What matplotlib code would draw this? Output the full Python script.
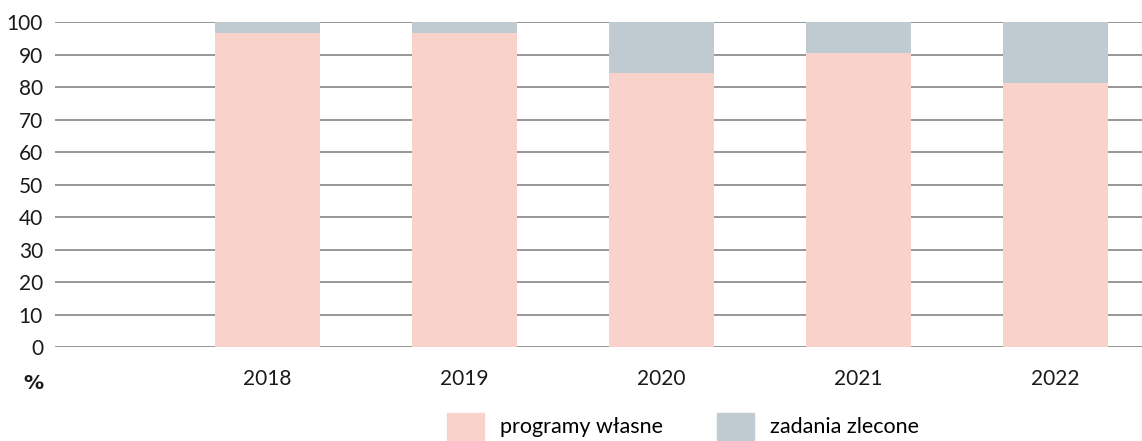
import matplotlib.pyplot as plt
from matplotlib.patches import Patch

plt.rcParams['font.family'] = ['Lato', 'DejaVu Sans']

years = ['2018', '2019', '2020', '2021', '2022']
programy_wlasne = [96.5, 96.5, 84.3, 90.6, 81.2]
zadania_zlecone = [100 - v for v in programy_wlasne]

pink = '#f9d3cb'
grey = '#c0cbd1'

fig = plt.figure(figsize=(11.42, 4.41), dpi=100)
ax = fig.add_axes([0.048, 0.213, 0.952, 0.737])

x = range(len(years))
ax.bar(x, programy_wlasne, width=0.535, color=pink, zorder=2)
ax.bar(x, zadania_zlecone, bottom=programy_wlasne, width=0.535, color=grey, zorder=2)

ax.set_ylim(0, 100)
ax.set_xlim(-1.08, 4.44)
ax.set_yticks(range(0, 101, 10))
ax.set_xticks(list(x))
ax.set_xticklabels(years)
ax.yaxis.grid(True, color='#858585', linewidth=1.2, zorder=1)
ax.tick_params(axis='both', length=0, labelsize=15, colors='#1a1a1a')
ax.tick_params(axis='x', pad=16)
ax.tick_params(axis='y', pad=8.5)
for s in ax.spines.values():
    s.set_visible(False)

# Lato has no bold face here, so the % sign uses DejaVu Sans Bold
fig.text(0.0385, 0.131, '%', fontsize=14.5, fontweight='bold', family='DejaVu Sans',
         ha='right', va='center', color='#1a1a1a')

handles = [Patch(color=pink, label='programy własne'),
           Patch(color=grey, label='zadania zlecone')]
fig.legend(handles=handles, loc='center', bbox_to_anchor=(0.598, 0.033), ncol=2,
           frameon=False, fontsize=15.5, handlelength=1.72, handleheight=1.6,
           handletextpad=0.75, columnspacing=2.5, borderpad=0)

fig.savefig('out.png', dpi=100)
